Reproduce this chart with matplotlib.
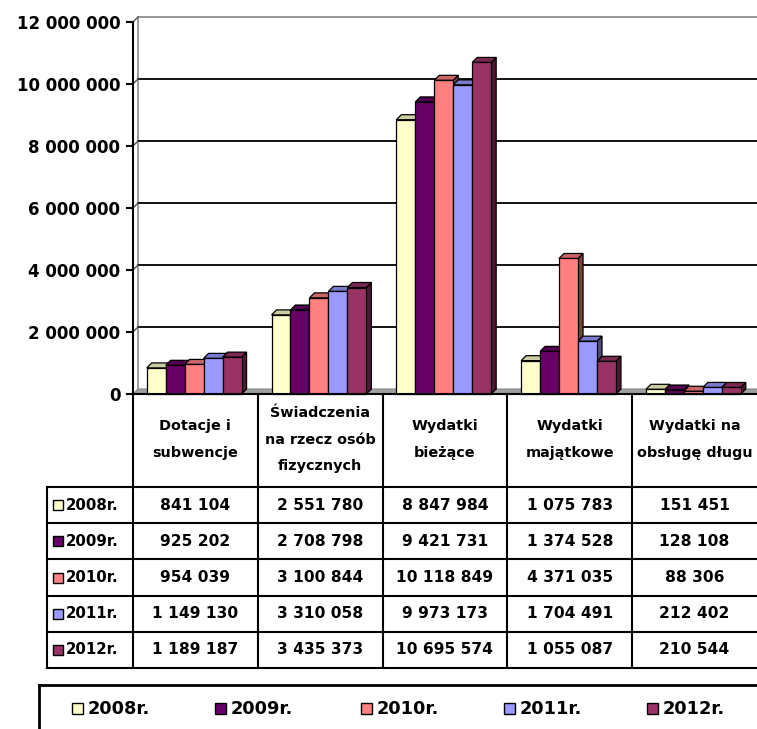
import matplotlib.pyplot as plt
import matplotlib.colors as mcolors
from matplotlib.patches import Rectangle, Polygon
from matplotlib.ticker import FuncFormatter

plt.rcParams['font.family'] = ['DejaVu Sans']
plt.rcParams['font.weight'] = 'bold'

categories = ["Dotacje i\nsubwencje",
              "Świadczenia\nna rzecz osób\nfizycznych",
              "Wydatki\nbieżące",
              "Wydatki\nmajątkowe",
              "Wydatki na\nobsługę długu"]
years = ["2008r.", "2009r.", "2010r.", "2011r.", "2012r."]
v2008 = [841104, 2551780, 8847984, 1075783, 151451]
v2009 = [925202, 2708798, 9421731, 1374528, 128108]
v2010 = [954039, 3100844, 10118849, 4371035, 88306]
v2011 = [1149130, 3310058, 9973173, 1704491, 212402]
v2012 = [1189187, 3435373, 10695574, 1055087, 210544]
series = [v2008, v2009, v2010, v2011, v2012]
colors = ["#FFFFCC", "#660066", "#FF8080", "#9999FF", "#993366"]
yticks = [0, 2000000, 4000000, 6000000, 8000000, 10000000, 12000000]

W, H = 757, 729
fig = plt.figure(figsize=(W / 100, H / 100), dpi=100)

# chart area in pixels
ax_l, ax_r, ax_top, ax_bot = 133, 757, 22, 394
ax = fig.add_axes([ax_l / W, 1 - ax_bot / H, (ax_r - ax_l) / W, (ax_bot - ax_top) / H])
ax.set_xlim(-0.5, 4.5)
ax.set_ylim(0, 12000000)
ax.patch.set_alpha(0)

# 3d depth (5 px) in data units
dpx = 5
dx = dpx * 5.0 / (ax_r - ax_l)
dy = dpx * 12000000 / (ax_bot - ax_top)


def shade(c, f):
    r, g, b = mcolors.to_rgb(c)
    return (r * f, g * f, b * f)


# floor
ax.add_patch(Polygon([(-0.5, 0), (4.6, 0), (4.6 + dx, dy), (-0.5 + dx, dy)],
                     closed=True, facecolor="#a0a0a0", edgecolor="#888888",
                     lw=0.8, clip_on=False, zorder=1))
# side wall edge and gridlines on back wall
ax.plot([-0.5 + dx, -0.5 + dx], [dy, 12000000 + dy], color="#8c8c8c", lw=1.2,
        clip_on=False, zorder=1)
for t in yticks[1:]:
    col = "#8c8c8c" if t == yticks[-1] else "black"
    ax.plot([-0.5 + dx, 4.6], [t + dy, t + dy], color=col, lw=1.3,
            clip_on=False, zorder=1)
    ax.plot([-0.5, -0.5 + dx], [t, t + dy], color="#555555", lw=1,
            clip_on=False, zorder=1)

# bars
bw = 0.152
for i in range(len(categories)):
    x0 = i - 2.5 * bw - dx / 2 + 0.01
    for j, vals in enumerate(series):
        h = vals[i]
        xl = x0 + j * bw
        z = 3 + i * 10 + j
        c = colors[j]
        ax.add_patch(Polygon([(xl + bw, 0), (xl + bw + dx, dy), (xl + bw + dx, h + dy), (xl + bw, h)],
                             closed=True, facecolor=shade(c, 0.5), edgecolor="black",
                             lw=0.9, zorder=z, clip_on=False))
        ax.add_patch(Polygon([(xl, h), (xl + bw, h), (xl + bw + dx, h + dy), (xl + dx, h + dy)],
                             closed=True, facecolor=shade(c, 0.8), edgecolor="black",
                             lw=0.9, zorder=z, clip_on=False))
        ax.add_patch(Rectangle((xl, 0), bw, h, facecolor=c, edgecolor="black",
                               lw=0.9, zorder=z, clip_on=False))

for s in ["top", "right", "bottom"]:
    ax.spines[s].set_visible(False)
ax.spines["left"].set_linewidth(1.5)
ax.spines["left"].set_zorder(2)
ax.set_xticks([])
ax.set_yticks(yticks)
ax.yaxis.set_major_formatter(FuncFormatter(lambda v, p: f"{int(v):,}".replace(",", " ")))
ax.tick_params(axis="y", length=5, width=1.5, pad=4, labelsize=12)
for lbl in ax.get_yticklabels():
    lbl.set_fontweight("bold")

# table and legend drawn in pixel coordinates
ov = fig.add_axes([0, 0, 1, 1])
ov.set_xlim(0, W)
ov.set_ylim(H, 0)
ov.axis("off")
ov.patch.set_alpha(0)

col_x = [ax_l + k * (ax_r - ax_l) / 5 for k in range(6)]
head_top, head_bot = 394, 487
row_h = 36.2
rows_bot = head_bot + row_h * len(years)
lab_l = 47
lw = 1.5

ov.plot([ax_l, W], [head_top, head_top], color="black", lw=lw)
for xk in col_x[:-1]:
    ov.plot([xk, xk], [head_top, rows_bot], color="black", lw=lw)
ov.plot([lab_l, lab_l], [head_bot, rows_bot], color="black", lw=lw)
for r in range(len(years) + 1):
    yk = head_bot + r * row_h
    ov.plot([lab_l, W], [yk, yk], color="black", lw=lw)

for i, name in enumerate(categories):
    cx = (col_x[i] + col_x[i + 1]) / 2
    ov.text(cx, (head_top + head_bot) / 2 - 1, name, ha="center", va="center",
            fontsize=10.4, fontweight="bold", linespacing=2.1)
    for j, vals in enumerate(series):
        cy = head_bot + (j + 0.5) * row_h
        ov.text(cx, cy, f"{vals[i]:,}".replace(",", " "), ha="center", va="center",
                fontsize=11.2, fontweight="bold")

for j, y in enumerate(years):
    cy = head_bot + (j + 0.5) * row_h
    ov.add_patch(Rectangle((53, cy - 5), 10, 10, facecolor=colors[j], edgecolor="black", lw=1))
    ov.text(66, cy, y, ha="left", va="center", fontsize=10.8, fontweight="bold")

# legend box
ov.plot([39, W + 5], [685, 685], color="black", lw=2)
ov.plot([39, 39], [685, H + 5], color="black", lw=2)
leg_x = [72, 215, 361, 504, 647]
for j, y in enumerate(years):
    ov.add_patch(Rectangle((leg_x[j], 703), 11, 11, facecolor=colors[j], edgecolor="black", lw=1))
    ov.text(leg_x[j] + 16, 709, y, ha="left", va="center", fontsize=12.8, fontweight="bold")

fig.savefig("out.png", dpi=100)
